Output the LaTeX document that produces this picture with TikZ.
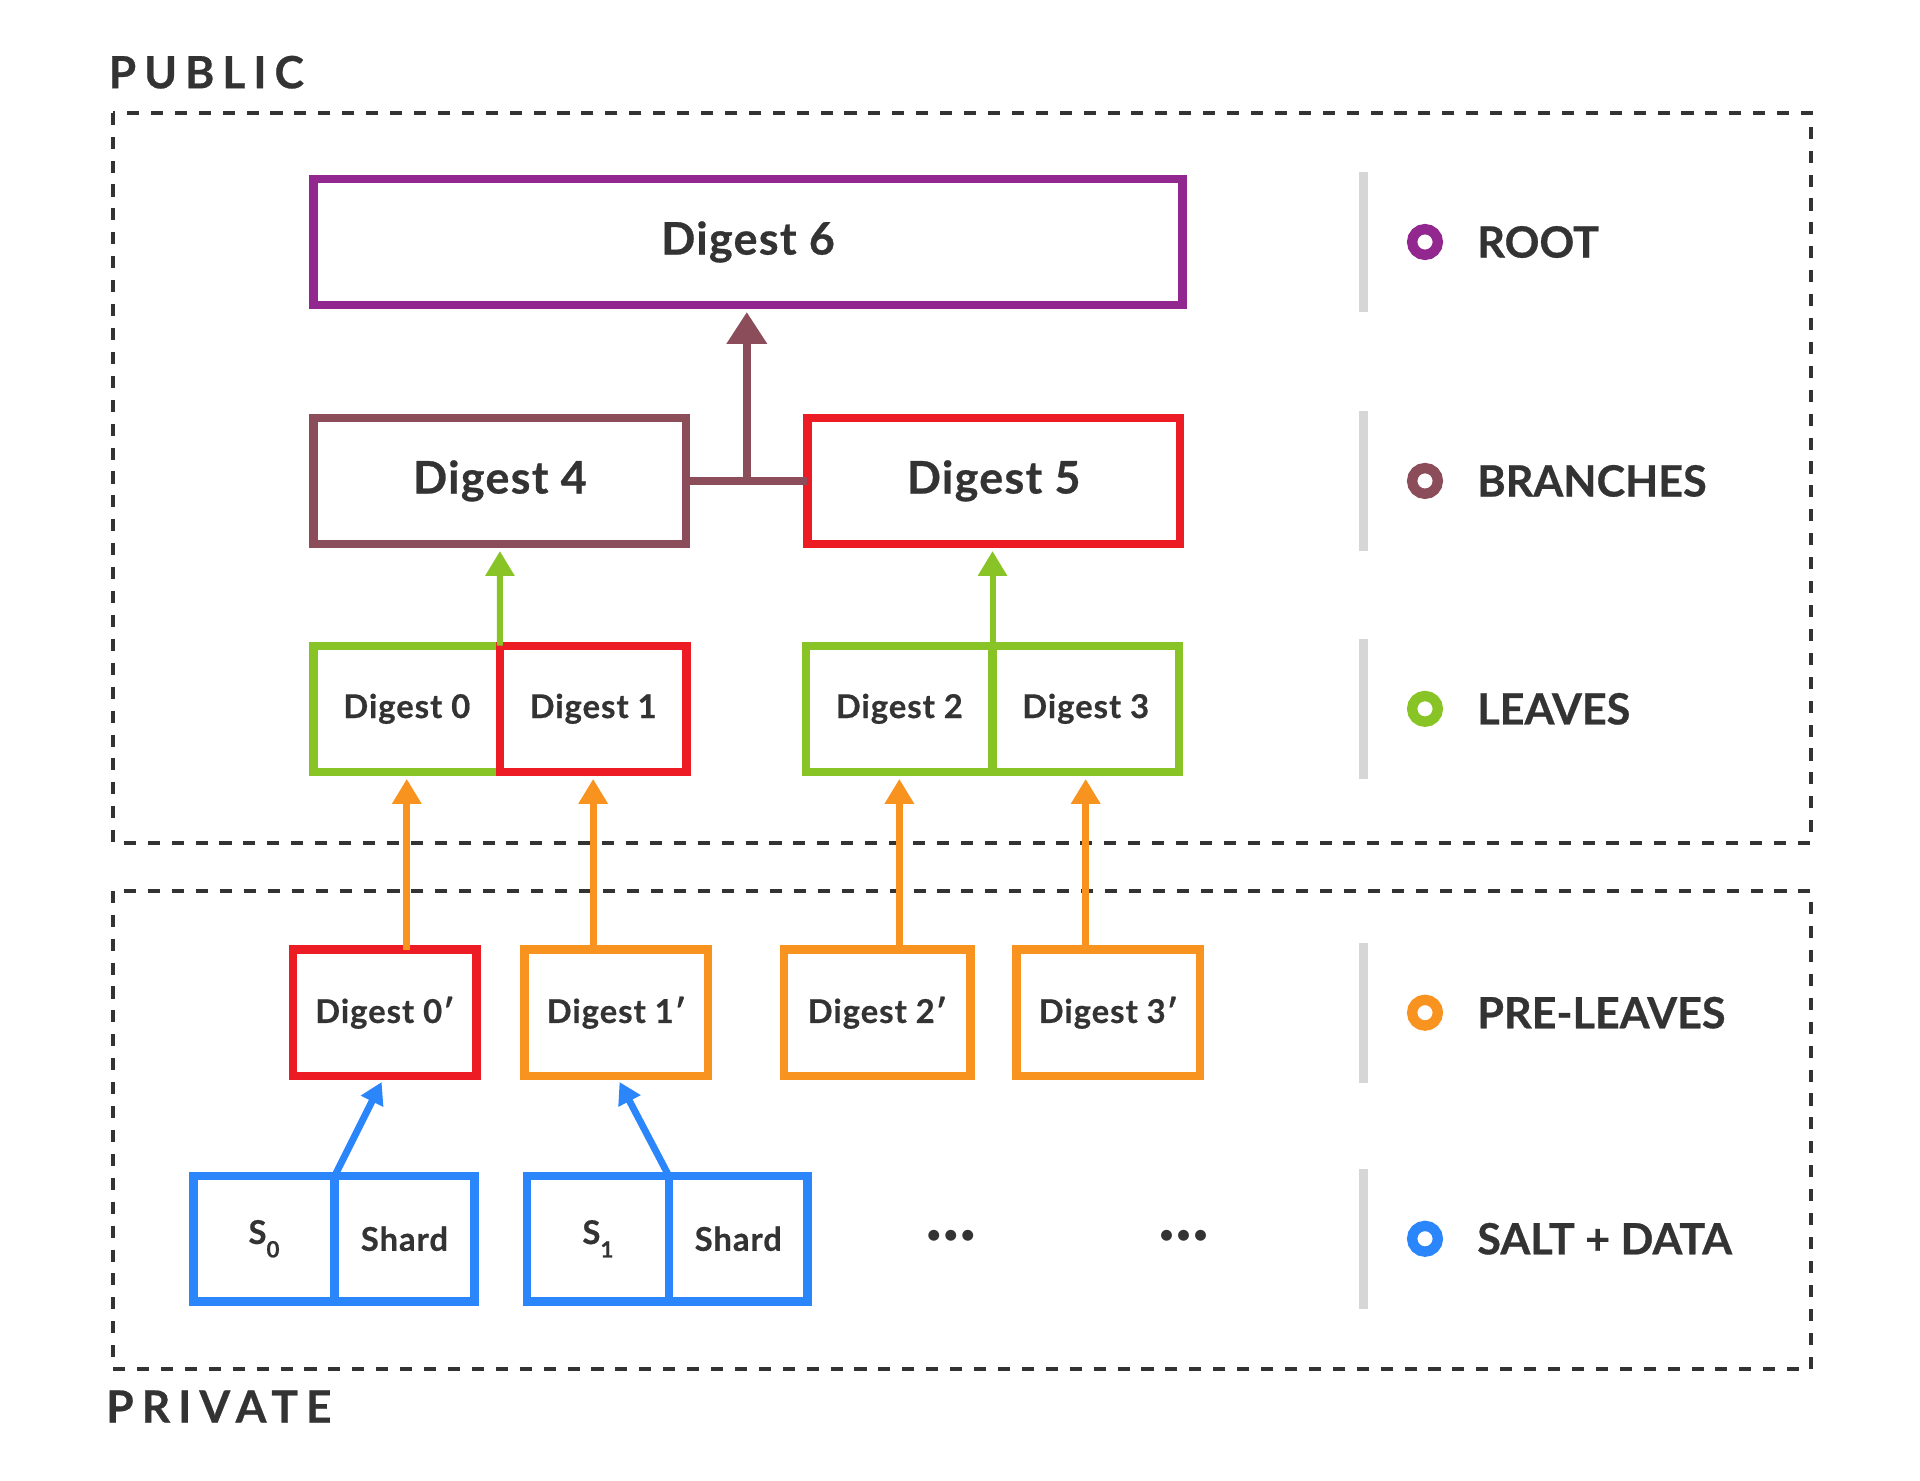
\documentclass[tikz,border=0pt]{standalone}
\usepackage{fontspec}
\setmainfont{Lato}[BoldFeatures={FakeBold=0.6}]
\usetikzlibrary{arrows.meta,positioning,calc}
\definecolor{rootpurple}{HTML}{92278F}
\definecolor{branchbrown}{HTML}{8A4D59}
\definecolor{hashred}{HTML}{ED1C24}
\definecolor{leafgreen}{HTML}{88C425}
\definecolor{preorange}{HTML}{F7931E}
\definecolor{saltblue}{HTML}{2B86FB}
\definecolor{inkgray}{HTML}{333333}
\definecolor{bargray}{HTML}{D6D6D6}

\begin{document}
\begin{tikzpicture}[x=0.01cm, y=-0.01cm,
  box/.style={draw, line width=1.95pt, outer sep=0pt, inner sep=0pt, minimum height=1.03cm, text=inkgray},
  bigbox/.style={box, font=\bfseries\fontsize{10.4}{12}\selectfont\addfontfeature{LetterSpace=3}},
  smallbox/.style={box, minimum width=1.52cm, font=\bfseries\fontsize{7.6}{9}\selectfont\addfontfeature{LetterSpace=3}},
  link/.style={line width=1.6pt, -{Triangle[width=6.5pt, length=5.8pt]}, shorten >=1.6pt},
  zone/.style={draw=inkgray, line width=0.95pt, dash pattern=on 2.8pt off 2.75pt},
  zonelabel/.style={anchor=base west, inner sep=0pt, text=inkgray, font=\bfseries\fontsize{10.3}{12}\selectfont\addfontfeature{LetterSpace=18}},
  legendlabel/.style={anchor=west, inner sep=0pt, text=inkgray, font=\bfseries\fontsize{10}{12}\selectfont}]
\useasboundingbox (0,0) rectangle (1567,1208);

\draw[zone] (92,92) rectangle (1478,688);
\draw[zone] (92,727) rectangle (1478,1117);
\node[zonelabel] (public) at (88,72) {PUBLIC};
\node[zonelabel] (private) at (86,1161) {PRIVATE};

\node[bigbox, draw=rootpurple, minimum width=7.09cm] (d6) at (610.5,197.5) {Digest 6};
\node[bigbox, draw=branchbrown, minimum width=3.04cm] (d4) at (408,392.5) {Digest 4};
\node[bigbox, draw=hashred, minimum width=3.04cm] (d5) at (811,392.5) {Digest 5};

\node[smallbox, draw=leafgreen] (d0) at (332,578.5) {Digest 0};
\node[smallbox, draw=hashred, right=0pt of d0] (d1) {Digest 1};
\node[smallbox, draw=leafgreen] (d2) at (734,578.5) {Digest 2};
\node[smallbox, draw=leafgreen, right=0pt of d2] (d3) {Digest 3};

\node[smallbox, draw=hashred, minimum width=1.5cm] (p0) at (314,826.5) {Digest 0′};
\node[smallbox, draw=preorange, minimum width=1.5cm] (p1) at (503,826.5) {Digest 1′};
\node[smallbox, draw=preorange, minimum width=1.52cm] (p2) at (716,826.5) {Digest 2′};
\node[smallbox, draw=preorange, minimum width=1.5cm] (p3) at (904.5,826.5) {Digest 3′};

\node[smallbox, draw=saltblue, minimum width=1.15cm, minimum height=1.02cm] (s0) at (215.5,1011) {S\raisebox{-.8ex}{\fontsize{5.2}{6}\selectfont 0}};
\node[smallbox, draw=saltblue, minimum width=1.14cm, minimum height=1.02cm, right=0pt of s0] (h0) {Shard};
\node[smallbox, draw=saltblue, minimum width=1.16cm, minimum height=1.02cm] (s1) at (488,1011) {S\raisebox{-.8ex}{\fontsize{5.2}{6}\selectfont 1}};
\node[smallbox, draw=saltblue, minimum width=1.13cm, minimum height=1.02cm, right=0pt of s1] (h1) {Shard};
\node[text=inkgray, font=\fontsize{6.8}{8}\selectfont] (more1) at (776,1010) {•••};
\node[text=inkgray, font=\fontsize{6.8}{8}\selectfont] (more2) at (966,1010) {•••};

\coordinate (join) at ($(d4.east)!.5!(d5.west)$);
\draw[branchbrown, line width=1.95pt] (d4.east) -- (d5.west);
\draw[link, branchbrown, line width=1.8pt, -{Triangle[width=9pt, length=7.4pt]}] (join) -- (join |- d6.south);
\draw[link, leafgreen, line width=1.4pt] (d0.north east) -- (d4.south);
\draw[link, leafgreen, line width=1.4pt] (d2.north east) -- (d2.north east |- d5.south);
\foreach \leaf/\pre in {d0/p0, d1/p1, d2/p2, d3/p3}
  \draw[link, preorange] (\leaf |- \pre.north) -- (\leaf.south);
\draw[link, saltblue, -{Triangle[width=5.5pt, length=5pt]}] (s0.north east) -- (p0.south);
\draw[link, saltblue, -{Triangle[width=5.5pt, length=5pt]}] (s1.north east) -- (p1.south);

\foreach \yc/\col/\lab [count=\i] in {197.5/rootpurple/ROOT, 392.5/branchbrown/BRANCHES, 578.5/leafgreen/LEAVES, 826.5/preorange/PRE-LEAVES, 1011/saltblue/SALT + DATA} {
  \draw[bargray, line width=2.1pt] (1113,\yc-57) -- (1113,\yc+57);
  \draw[\col, line width=2.4pt] (1163,\yc) circle (10.5);
  \node[legendlabel] (legend\i) at (1205,\yc) {\lab};
}
\end{tikzpicture}
\end{document}
